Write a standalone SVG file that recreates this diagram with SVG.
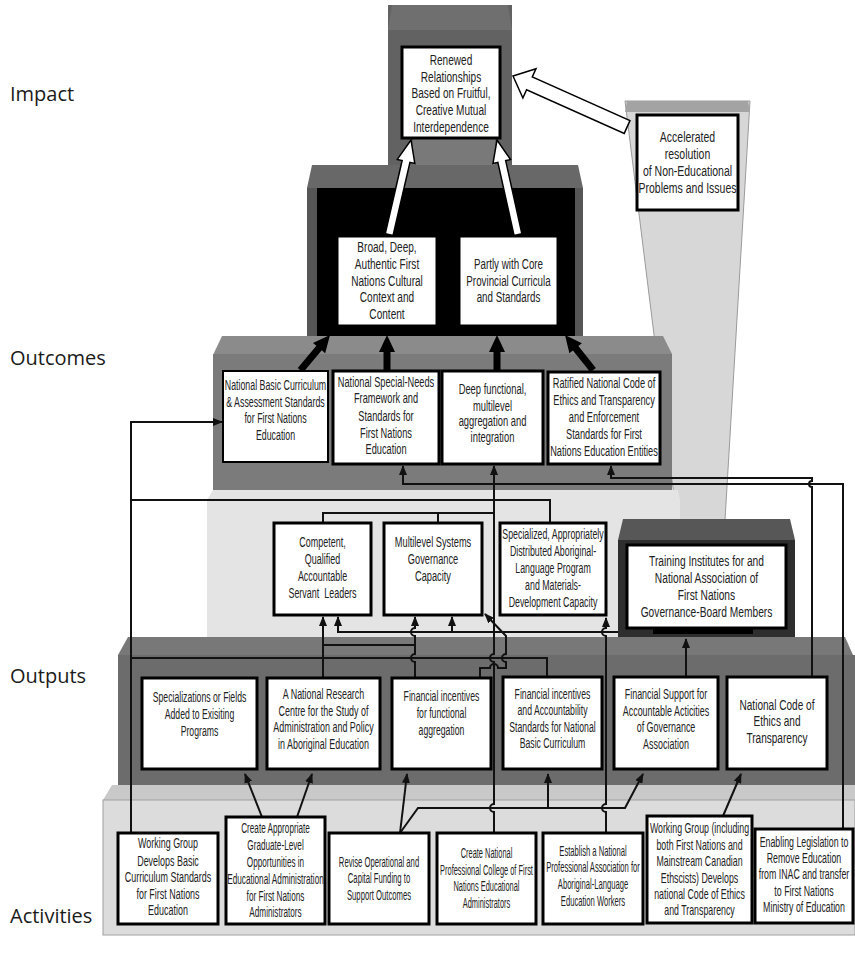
<svg xmlns="http://www.w3.org/2000/svg" width="855" height="953" viewBox="0 0 855 953">
<style>
.box{fill:#fff;stroke:#000;stroke-width:3}
.bx2{fill:#fff;stroke:#000;stroke-width:1}
.t{font-family:"Liberation Sans",Arial,sans-serif;font-size:15px;fill:#222;text-anchor:middle}
.lbl{font-family:"Open Sans",sans-serif;font-size:20px;fill:#1a1a1a}
.c{fill:none;stroke:#111;stroke-width:2}
.ca{marker-end:url(#ah)}
.warr{fill:#fff;stroke:#000;stroke-width:1.5;stroke-linejoin:miter}
.barr{fill:#000}
</style>
<defs>
<marker id="ah" viewBox="0 0 10 8" refX="9" refY="4" markerWidth="10" markerHeight="8" markerUnits="userSpaceOnUse" orient="auto"><path d="M0,0 L10,4 L0,8 z" fill="#111"/></marker>
</defs>
<rect width="855" height="953" fill="#fff"/>
<g id="tiers">
<polygon points="625,101 750,101 725,520 677,520" fill="#d7d7d7" stroke="#9a9a9a" stroke-width="1"/>
<polygon points="625,112 627,101 748,101 750,112" fill="#a3a3a3"/>
<rect x="388" y="5" width="124" height="167" fill="#626262"/>
<polygon points="388,30 392,5 508,5 512,30" fill="#6f6f6f"/>
<rect x="413" y="138" width="82" height="34" fill="#797979"/>
<polygon points="307,188 312,165 578,165 583,188" fill="#686868"/>
<rect x="307" y="188" width="276" height="150" fill="#565656"/>
<rect x="317" y="188" width="258" height="150" fill="#000"/>
<polygon points="213,355 222,336 663,336 672,354" fill="#8b8b8b"/>
<rect x="213" y="354" width="459" height="136" fill="#7b7b7b"/>
<polygon points="207,500 213,490 678,490 680,500 680,637 207,637" fill="#e4e4e4"/>
<polygon points="618,540 623,519 790,519 795,540" fill="#575757"/>
<rect x="618" y="540" width="177" height="97" fill="#2e2e2e"/>
<rect x="653" y="627" width="100" height="7" fill="#000"/>
<polygon points="118,655 128,637 845,637 853,655" fill="#787878"/>
<rect x="118" y="655" width="737" height="130" fill="#6c6c6c"/>
<polygon points="103,800 112,785 855,785 855,800" fill="#c9c9c9"/>
<rect x="103" y="800" width="752" height="135" fill="#dcdcdc" stroke="#a0a0a0" stroke-width="1"/>
</g>
<g id="labels">
<text class="lbl" x="10" y="101">Impact</text>
<text class="lbl" x="10" y="365">Outcomes</text>
<text class="lbl" x="10" y="683">Outputs</text>
<text class="lbl" x="10" y="923">Activities</text>
</g>
<g id="connectors">
<polygon class="warr" transform="translate(411,140) rotate(13)" points="0,0 9,22 4,22 4,97 -4,97 -4,22 -9,22"/>
<polygon class="warr" transform="translate(497,140) rotate(-12.5)" points="0,0 9,22 4,22 4,97 -4,97 -4,22 -9,22"/>
<polygon class="warr" transform="translate(513,76) rotate(-65.9)" points="0,0 16,18 7,18 7,125 -7,125 -7,18 -16,18"/>
<polygon class="barr" transform="translate(330,335) rotate(40)" points="0,0 8,17 3.5,17 3.5,46 -3.5,46 -3.5,17 -8,17"/>
<polygon class="barr" transform="translate(387,335)" points="0,0 8,17 3.5,17 3.5,36 -3.5,36 -3.5,17 -8,17"/>
<polygon class="barr" transform="translate(497,335)" points="0,0 8,17 3.5,17 3.5,36 -3.5,36 -3.5,17 -8,17"/>
<polygon class="barr" transform="translate(565,335) rotate(-38.7)" points="0,0 8,17 3.5,17 3.5,45 -3.5,45 -3.5,17 -8,17"/>
<path class="c ca" d="M131,833 V422 H222"/>
<path class="c" d="M131,500 H550 V523"/>
<path class="c" d="M131,658 H547 V677"/>
<path class="c ca" d="M494,833 V812 a4,4 0 0 1 0,-8 V662 a4,4 0 0 1 0,-8 V466"/>
<path class="c" d="M323,523 V513 H494 M438,513 V523"/>
<path class="c ca" d="M618,632 H338 V617"/>
<path class="c ca" d="M452,632 V617"/>
<path class="c ca" d="M323,677 V617"/>
<path class="c" d="M323,645 H415"/>
<path class="c ca" d="M415,677 V662 a4,4 0 0 1 0,-8 V636 a4,4 0 0 1 0,-8 V617"/>
<path class="c ca" d="M480,677 V668 H490 a4,4 0 0 1 8,0 H506 V662 a4,4 0 0 1 0,-8 V636 L485,614"/>
<path class="c ca" d="M606,833 V812 a4,4 0 0 1 0,-8 V636 a4,4 0 0 1 0,-8 V618"/>
<path class="c ca" d="M686,677 V639"/>
<path class="c ca" d="M812,677 V487 a3,3 0 0 1 0,-6 V478 H611 V466"/>
<path class="c ca" d="M843,829 V484 H403 V466"/>
<path class="c ca" d="M723,816 L741,774"/>
<path class="c ca" d="M400,833 L407,774"/>
<path class="c ca" d="M400,833 L418,808 H625 L643,774"/>
<path class="c ca" d="M548,808 V774"/>
<path class="c ca" d="M262,817 L245,774"/>
<path class="c ca" d="M297,817 L312,774"/>
</g>
<g id="n-renewed"><rect class="box" x="402" y="47" width="98" height="91"/><text class="t" transform="translate(451,0) scale(0.672,1)"><tspan x="0" y="65">Renewed</tspan><tspan x="0" y="82">Relationships</tspan><tspan x="0" y="98">Based on Fruitful,</tspan><tspan x="0" y="115">Creative Mutual</tspan><tspan x="0" y="132">Interdependence</tspan></text></g>
<g id="n-accelerated"><rect class="box" x="637" y="115" width="101" height="95"/><text class="t" transform="translate(687.5,0) scale(0.70,1)"><tspan x="0" y="142">Accelerated</tspan><tspan x="0" y="159">resolution</tspan><tspan x="0" y="176">of Non-Educational</tspan><tspan x="0" y="193">Problems and Issues</tspan></text></g>
<g id="n-broad"><rect class="bx2" x="338" y="237" width="98" height="88"/><text class="t" transform="translate(387,0) scale(0.672,1)"><tspan x="0" y="252">Broad, Deep,</tspan><tspan x="0" y="269">Authentic First</tspan><tspan x="0" y="286">Nations Cultural</tspan><tspan x="0" y="302">Context and</tspan><tspan x="0" y="319">Content</tspan></text></g>
<g id="n-partly"><rect class="bx2" x="460" y="237" width="97" height="88"/><text class="t" transform="translate(508.5,0) scale(0.653,1)"><tspan x="0" y="269">Partly with Core</tspan><tspan x="0" y="286">Provincial Curricula</tspan><tspan x="0" y="302">and Standards</tspan></text></g>
<g id="n-basic-standards"><rect class="box" x="223" y="371" width="105" height="91" style="stroke-width:2"/><text class="t" transform="translate(275.5,0) scale(0.588,1)"><tspan x="0" y="390">National Basic Curriculum</tspan><tspan x="0" y="407">&amp; Assessment Standards</tspan><tspan x="0" y="423">for First Nations</tspan><tspan x="0" y="440">Education</tspan></text></g>
<g id="n-special-needs"><rect class="box" x="333" y="371" width="106" height="93"/><text class="t" transform="translate(386,0) scale(0.616,1)"><tspan x="0" y="387">National Special-Needs</tspan><tspan x="0" y="403">Framework and</tspan><tspan x="0" y="421">Standards for</tspan><tspan x="0" y="438">First Nations</tspan><tspan x="0" y="454">Education</tspan></text></g>
<g id="n-deep"><rect class="box" x="442" y="371" width="101" height="93"/><text class="t" transform="translate(492.5,0) scale(0.625,1)"><tspan x="0" y="394">Deep functional,</tspan><tspan x="0" y="411">multilevel</tspan><tspan x="0" y="426">aggregation and</tspan><tspan x="0" y="442">integration</tspan></text></g>
<g id="n-ratified"><rect class="box" x="548" y="372" width="112" height="92"/><text class="t" transform="translate(604,0) scale(0.616,1)"><tspan x="0" y="388">Ratified National Code of</tspan><tspan x="0" y="405">Ethics and Transparency</tspan><tspan x="0" y="422">and Enforcement</tspan><tspan x="0" y="439">Standards for First</tspan><tspan x="0" y="456">Nations Education Entities</tspan></text></g>
<g id="n-competent"><rect class="box" x="274" y="523" width="97" height="92"/><text class="t" xml:space="preserve" transform="translate(322.5,0) scale(0.597,1)"><tspan x="0" y="547">Competent,</tspan><tspan x="0" y="564">Qualified</tspan><tspan x="0" y="581">Accountable</tspan><tspan x="0" y="598">Servant  Leaders</tspan></text></g>
<g id="n-multilevel"><rect class="box" x="384" y="523" width="98" height="92"/><text class="t" transform="translate(433,0) scale(0.616,1)"><tspan x="0" y="547">Multilevel Systems</tspan><tspan x="0" y="564">Governance</tspan><tspan x="0" y="581">Capacity</tspan></text></g>
<g id="n-specialized"><rect class="box" x="500" y="523" width="106" height="92"/><text class="t" transform="translate(553,0) scale(0.588,1)"><tspan x="0" y="539">Specialized, Appropriately</tspan><tspan x="0" y="556">Distributed Aboriginal-</tspan><tspan x="0" y="573">Language Program</tspan><tspan x="0" y="590">and Materials-</tspan><tspan x="0" y="607">Development Capacity</tspan></text></g>
<g id="n-training"><rect class="box" x="627" y="545" width="159" height="83"/><text class="t" transform="translate(706.5,0) scale(0.681,1)"><tspan x="0" y="566">Training Institutes for and</tspan><tspan x="0" y="583">National Association of</tspan><tspan x="0" y="600">First Nations</tspan><tspan x="0" y="617">Governance-Board Members</tspan></text></g>
<g id="n-specializations"><rect class="box" x="142" y="678" width="115" height="91"/><text class="t" transform="translate(199.5,0) scale(0.579,1)"><tspan x="0" y="702">Specializations or Fields</tspan><tspan x="0" y="719">Added to Exisiting</tspan><tspan x="0" y="736">Programs</tspan></text></g>
<g id="n-research-centre"><rect class="box" x="267" y="678" width="113" height="91"/><text class="t" transform="translate(323.5,0) scale(0.597,1)"><tspan x="0" y="699">A National Research</tspan><tspan x="0" y="716">Centre for the Study of</tspan><tspan x="0" y="732">Administration and Policy</tspan><tspan x="0" y="749">in Aboriginal Education</tspan></text></g>
<g id="n-fin-aggregation"><rect class="box" x="392" y="678" width="99" height="91"/><text class="t" transform="translate(441.5,0) scale(0.579,1)"><tspan x="0" y="701">Financial incentives</tspan><tspan x="0" y="718">for functional</tspan><tspan x="0" y="735">aggregation</tspan></text></g>
<g id="n-fin-accountability"><rect class="box" x="503" y="677" width="99" height="92"/><text class="t" transform="translate(552.5,0) scale(0.579,1)"><tspan x="0" y="699">Financial incentives</tspan><tspan x="0" y="715">and Accountability</tspan><tspan x="0" y="732">Standards for National</tspan><tspan x="0" y="748">Basic Curriculum</tspan></text></g>
<g id="n-fin-support"><rect class="box" x="614" y="677" width="104" height="92"/><text class="t" transform="translate(666,0) scale(0.597,1)"><tspan x="0" y="699">Financial Support for</tspan><tspan x="0" y="716">Accountable Acticities</tspan><tspan x="0" y="732">of Governance</tspan><tspan x="0" y="749">Association</tspan></text></g>
<g id="n-code-ethics"><rect class="box" x="727" y="677" width="100" height="92"/><text class="t" transform="translate(777,0) scale(0.672,1)"><tspan x="0" y="710">National Code of</tspan><tspan x="0" y="726">Ethics and</tspan><tspan x="0" y="743">Transparency</tspan></text></g>
<g id="n-wg-curriculum"><rect class="box" x="118" y="833" width="100" height="91"/><text class="t" transform="translate(168,0) scale(0.597,1)"><tspan x="0" y="848">Working Group</tspan><tspan x="0" y="866">Develops Basic</tspan><tspan x="0" y="882">Curriculum Standards</tspan><tspan x="0" y="899">for First Nations</tspan><tspan x="0" y="915">Education</tspan></text></g>
<g id="n-graduate"><rect class="box" x="226" y="817" width="99" height="107"/><text class="t" transform="translate(275.5,0) scale(0.546,1)"><tspan x="0" y="833">Create Appropriate</tspan><tspan x="0" y="850">Graduate-Level</tspan><tspan x="0" y="867">Opportunities in</tspan><tspan x="0" y="884">Educational Administration</tspan><tspan x="0" y="901">for First Nations</tspan><tspan x="0" y="917">Administrators</tspan></text></g>
<g id="n-revise"><rect class="box" x="329" y="833" width="100" height="91"/><text class="t" transform="translate(379,0) scale(0.513,1)"><tspan x="0" y="867">Revise Operational and</tspan><tspan x="0" y="883">Capital Funding to</tspan><tspan x="0" y="900">Support Outcomes</tspan></text></g>
<g id="n-college"><rect class="box" x="437" y="833" width="99" height="91"/><text class="t" transform="translate(486.5,0) scale(0.495,1)"><tspan x="0" y="858">Create National</tspan><tspan x="0" y="875">Professional College of First</tspan><tspan x="0" y="891">Nations Educational</tspan><tspan x="0" y="908">Administrators</tspan></text></g>
<g id="n-association"><rect class="box" x="543" y="833" width="100" height="91"/><text class="t" transform="translate(593,0) scale(0.509,1)"><tspan x="0" y="856">Establish a National</tspan><tspan x="0" y="872">Professional Association for</tspan><tspan x="0" y="889">Aboriginal-Language</tspan><tspan x="0" y="906">Education Workers</tspan></text></g>
<g id="n-wg-ethics"><rect class="box" x="647" y="816" width="105" height="107"/><text class="t" style="font-size:14px" transform="translate(699.5,0) scale(0.63,1)"><tspan x="0" y="833">Working Group (including</tspan><tspan x="0" y="850">both First Nations and</tspan><tspan x="0" y="866">Mainstream Canadian</tspan><tspan x="0" y="883">Ethscists) Develops</tspan><tspan x="0" y="899">national Code of Ethics</tspan><tspan x="0" y="915">and Transparency</tspan></text></g>
<g id="n-legislation"><rect class="box" x="755" y="829" width="98" height="94"/><text class="t" transform="translate(804,0) scale(0.588,1)"><tspan x="0" y="847">Enabling Legislation to</tspan><tspan x="0" y="863">Remove Education</tspan><tspan x="0" y="879">from INAC and transfer</tspan><tspan x="0" y="896">to First Nations</tspan><tspan x="0" y="912">Ministry of Education</tspan></text></g>
</svg>
